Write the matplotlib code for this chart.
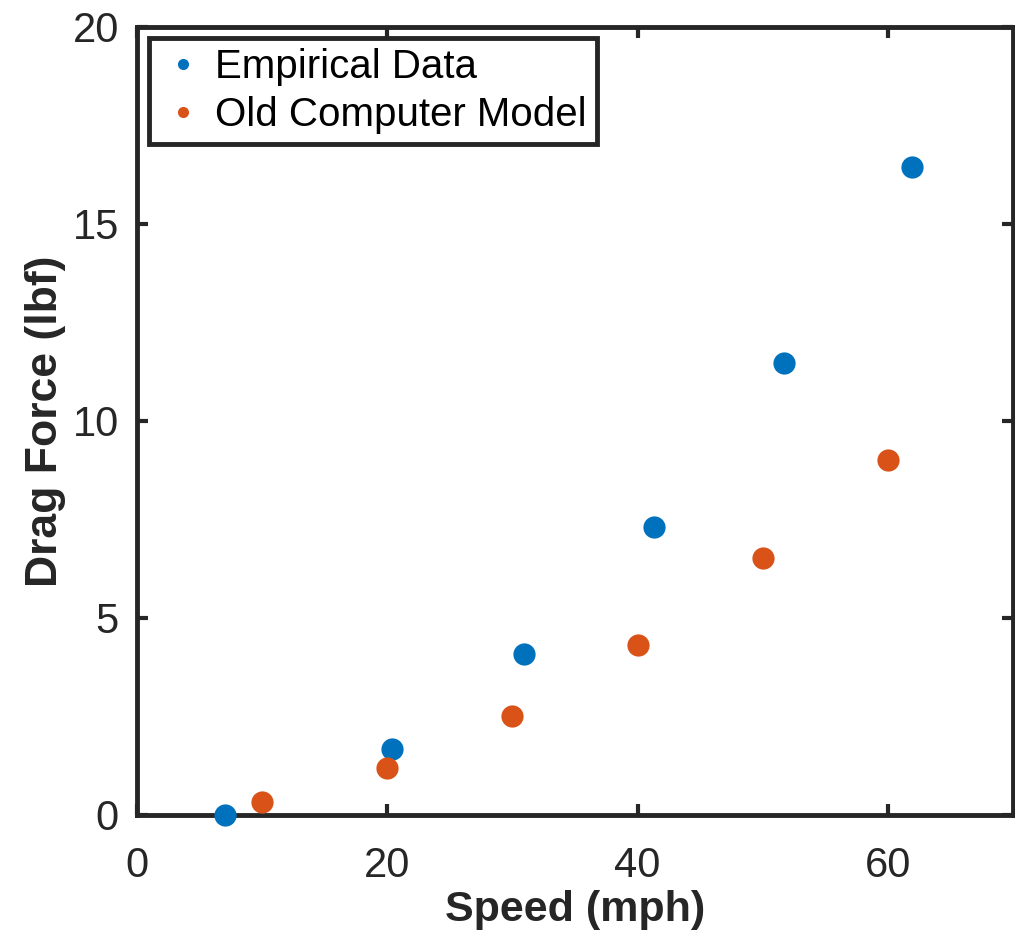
import numpy as np
import matplotlib
matplotlib.use("Agg")
import matplotlib.pyplot as plt

# Data
speed_empirical = [7.0, 20.4, 30.9, 41.3, 51.7, 61.9]
drag_empirical = [0.0, 1.68, 4.09, 7.31, 11.47, 16.45]

speed_model = [10, 20, 30, 40, 50, 60]
drag_model = [0.33, 1.19, 2.51, 4.31, 6.52, 9.0]

x_ticks = [0, 20, 40, 60]
y_ticks = [0, 5, 10, 15, 20]

plt.rcParams['font.family'] = ['Liberation Sans', 'DejaVu Sans']
dark = '#262626'

fig = plt.figure(figsize=(10.15, 9.31), dpi=100)
ax = fig.add_axes([0.135, 0.1246, 0.863, 0.8464])

ax.plot(speed_empirical, drag_empirical, 'o', color='#0072BD', markersize=16,
        markeredgewidth=0, label='Empirical Data', clip_on=False, zorder=3)
ax.plot(speed_model, drag_model, 'o', color='#D95319', markersize=16,
        markeredgewidth=0, label='Old Computer Model', clip_on=False, zorder=3)

ax.set_xlim(0, 70)
ax.set_ylim(0, 20)
ax.set_xticks(x_ticks)
ax.set_yticks(y_ticks)

ax.tick_params(direction='in', length=8, width=3, top=True, right=True,
               labelsize=30, colors=dark)
ax.tick_params(axis='x', pad=22)
ax.tick_params(axis='y', pad=13)
for sp in ax.spines.values():
    sp.set_linewidth(3.5)
    sp.set_color(dark)

ax.set_xlabel('Speed (mph)', fontsize=31, fontweight='bold', color=dark, labelpad=3)
ax.set_ylabel('Drag Force (lbf)', fontsize=32, fontweight='bold', color=dark, labelpad=5)

leg = ax.legend(loc='upper left', fontsize=29, markerscale=0.5, frameon=True,
                fancybox=False, framealpha=1, borderpad=0.25, borderaxespad=0,
                handletextpad=0.2, handlelength=1.2, labelspacing=0.25,
                bbox_to_anchor=(0.0135, 0.986))
leg.get_frame().set_edgecolor(dark)
leg.get_frame().set_linewidth(3.5)
for t in leg.get_texts():
    t.set_color('black')

fig.savefig('out.png', dpi=100)
